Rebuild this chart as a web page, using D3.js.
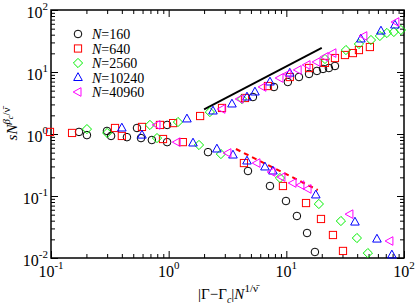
<!DOCTYPE html>
<html><head><meta charset="utf-8">
<script src="https://cdn.jsdelivr.net/npm/d3@7"></script>
<style>body{margin:0;background:#fff}</style>
</head><body>
<svg id="c" width="415" height="307"></svg>
<script>
// ---- data ----
const seriesLabels = ["160", "640", "2560", "10240", "40960"];
const n160X = [0.173,0.299,0.538,0.97,5.2,7.85,10.3,12.8,15.6,18.2,20.5,23.0,25.9, 0.202,0.324,0.442,0.582,0.72,0.97,2.16,4.72,7.26,9.93,12.3,15.0,17.5];
const n160Y = [1.08,1.12,1.25,1.40,3.95,5.73,6.9,8.3,9.3,10.4,11.2,11.6,12.5, 0.96,0.93,0.89,0.86,0.80,0.74,0.51,0.253,0.145,0.083,0.0476,0.0253,0.0125];
const n640X = [0.098,0.35,0.593,0.843,1.09,1.85,2.84,4.45,6.98,10.7,15.6,21.3,25.9,31.5,36.8,41.4,51.3, 0.151,0.40,0.895,1.32,4.36,9.36,14.7,19.7,24.9,30.3];
const n640Y = [1.08,1.25,1.30,1.40,1.50,1.95,2.63,3.81,5.94,8.3,11.6,14.0,16.8,18.8,20.2,22.6,25.3, 1.04,0.93,0.83,0.74,0.34,0.145,0.077,0.0426,0.0235,0.013];
const n2560X = [0.202,0.693,1.20,2.24,4.20,21.3,32.1,41.4,52.4,62.4,71.6,82.0,94.1, 0.30,0.796,1.81,2.78,8.83,18.9,29.1,39.8,49.3];
const n2560Y = [1.20,1.40,1.56,2.26,3.67,16.2,22.6,28.3,32.8,38.1,42.6,44.2,47.6, 1.04,0.86,0.665,0.475,0.195,0.0743,0.0395,0.021,0.012];
const n10240X = [0.40,1.43,2.38,3.45,4.63,5.41,7.26,10.7,43.0,63.7,83.7, 0.593,1.61,2.57,3.52,4.63,6.58,7.69,17.8,38.3,58.9,78.9];
const n10240Y = [1.25,1.75,2.35,3.05,3.95,4.76,6.9,9.6,34.1,45.8,57.3, 0.96,0.716,0.573,0.458,0.367,0.294,0.253,0.104,0.038,0.0202,0.0112];
const n40960X = [0.796,2.84,4.04,6.33,8.83,10.3,12.6,15.0,18.2,21.3,24.9,45.6,85.3, 1.18,3.19,5.63,7.55,9.18,11.4,13.3,15.3,34.7,75.9];
const n40960Y = [1.40,2.53,3.67,5.73,8.0,9.3,10.8,13.0,14.5,17.5,20.2,38.1,64.0, 0.74,0.494,0.34,0.244,0.202,0.162,0.150,0.130,0.051,0.0188];
const solidLineX = [2, 20];
const solidLineY = [2.5, 24.5];
const dashedLineX = [3.73, 18.5];
const dashedLineY = [0.573, 0.125];
const xTicks = [0.1, 1, 10, 100];
const xTickExp = ["-1", "0", "1", "2"];
const yTicks = [0.01, 0.1, 1, 10, 100];
const yTickExp = ["-2", "-1", "0", "1", "2"];

// ---- setup ----
const colors = ["#000000", "#ff0000", "#00f000", "#0000ff", "#ff00ff"];
const shapes = ["circle", "square", "diamond", "triUp", "triLeft"];
const seriesX = [n160X, n640X, n2560X, n10240X, n40960X];
const seriesY = [n160Y, n640Y, n2560Y, n10240Y, n40960Y];

const L = 51, R = 404, T = 10, B = 258;
const x = d3.scaleLog().domain([0.1, 100]).range([L, R]);
const y = d3.scaleLog().domain([0.01, 100]).range([B, T]);
const svg = d3.select("#c");
const FONT = "'Liberation Serif', 'Times New Roman', serif";

function minors(lo, hi) {
  const out = [];
  for (let d = lo; d < hi; d *= 10) for (let k = 2; k <= 9; k++) out.push(d * k);
  return out;
}
const xMinor = minors(0.1, 100), yMinor = minors(0.01, 100);

function addAxis(axis, tr) {
  const g = svg.append("g").attr("transform", tr).call(axis);
  g.select(".domain").remove();
  g.selectAll("line").attr("stroke", "#000").attr("stroke-width", 1);
  g.selectAll("text").remove();
}
addAxis(d3.axisBottom(x).tickValues(xTicks).tickSize(-7), `translate(0,${B})`);
addAxis(d3.axisBottom(x).tickValues(xMinor).tickSize(-4), `translate(0,${B})`);
addAxis(d3.axisTop(x).tickValues(xTicks).tickSize(-7), `translate(0,${T})`);
addAxis(d3.axisTop(x).tickValues(xMinor).tickSize(-4), `translate(0,${T})`);
addAxis(d3.axisLeft(y).tickValues(yTicks).tickSize(-7), `translate(${L},0)`);
addAxis(d3.axisLeft(y).tickValues(yMinor).tickSize(-4), `translate(${L},0)`);
addAxis(d3.axisRight(y).tickValues(yTicks).tickSize(-7), `translate(${R},0)`);
addAxis(d3.axisRight(y).tickValues(yMinor).tickSize(-4), `translate(${R},0)`);

svg.append("rect").attr("x", L).attr("y", T).attr("width", R - L).attr("height", B - T)
  .attr("fill", "none").attr("stroke", "#000").attr("stroke-width", 1.5);

// tick labels
xTicks.forEach((v, i) => {
  const t = svg.append("text").attr("x", x(v)).attr("y", B + 19).attr("text-anchor", "middle")
    .attr("font-family", FONT).attr("font-size", 16).text("10");
  t.append("tspan").attr("dy", -8).attr("font-size", 11).text(xTickExp[i]);
});
yTicks.forEach((v, i) => {
  const t = svg.append("text").attr("x", 48).attr("y", y(v) + 8).attr("text-anchor", "end")
    .attr("font-family", FONT).attr("font-size", 16).text("10");
  t.append("tspan").attr("dy", -8).attr("font-size", 11).text(yTickExp[i]);
});

// axis titles
const xt = svg.append("text").attr("x", 228).attr("y", 299).attr("text-anchor", "middle")
  .attr("font-family", FONT).attr("font-size", 15).text("|Γ−Γ");
xt.append("tspan").attr("dy", 4).attr("font-size", 10).attr("font-style", "italic").text("c");
xt.append("tspan").attr("dy", -4).text("|");
xt.append("tspan").attr("font-style", "italic").text("N");
xt.append("tspan").attr("dy", -7).attr("font-size", 11).text("1/ν\u0304");

const yt = svg.append("text").attr("transform", "translate(17,124) rotate(-90)").attr("text-anchor", "middle")
  .attr("font-family", FONT).attr("font-size", 15);
yt.append("tspan").attr("font-style", "italic").text("sN");
yt.append("tspan").attr("dy", -7).attr("font-size", 11).attr("font-style", "italic").text("β");
yt.append("tspan").attr("dy", 3).attr("font-size", 8).attr("font-style", "italic").text("c");
yt.append("tspan").attr("dy", -3).attr("font-size", 11).text("/ν\u0304");

// lines
const lineGen = d3.line().x(d => x(d[0])).y(d => y(d[1]));
svg.append("path").attr("d", lineGen(solidLineX.map((v, i) => [v, solidLineY[i]])))
  .attr("stroke", "#000").attr("stroke-width", 1.8).attr("fill", "none");
svg.append("path").attr("d", lineGen(dashedLineX.map((v, i) => [v, dashedLineY[i]])))
  .attr("stroke", "#ff0000").attr("stroke-width", 2).attr("stroke-dasharray", "5,4").attr("fill", "none");

// markers
function drawMarker(g, shape, cx, cy, color) {
  let el;
  if (shape === "circle") el = g.append("circle").attr("cx", cx).attr("cy", cy).attr("r", 3.8);
  else if (shape === "square") el = g.append("rect").attr("x", cx - 3.6).attr("y", cy - 3.6).attr("width", 7.2).attr("height", 7.2);
  else {
    let p;
    if (shape === "diamond") p = [[0,-4.6],[4.6,0],[0,4.6],[-4.6,0]];
    else if (shape === "triUp") p = [[0,-4.8],[4.3,3],[-4.3,3]];
    else p = [[-4.8,0],[3,-4.3],[3,4.3]];
    el = g.append("path").attr("d", "M" + p.map(q => (cx + q[0]) + "," + (cy + q[1])).join("L") + "Z");
  }
  el.attr("fill", "none").attr("stroke", color).attr("stroke-width", 1);
}
seriesX.forEach((xs, s) => {
  const g = svg.append("g");
  xs.forEach((v, i) => drawMarker(g, shapes[s], x(v), y(seriesY[s][i]), colors[s]));
});

// legend
seriesLabels.forEach((lab, i) => {
  const cy = 34 + i * 14.5;
  drawMarker(svg, shapes[i], 78, cy, colors[i]);
  const t = svg.append("text").attr("x", 92).attr("y", cy + 5).attr("font-family", FONT).attr("font-size", 14);
  t.append("tspan").attr("font-style", "italic").text("N");
  t.append("tspan").text("=" + lab);
});
</script>
</body></html>
